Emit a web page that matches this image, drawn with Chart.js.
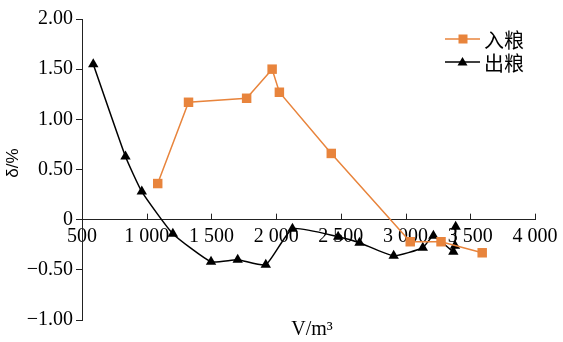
<!DOCTYPE html>
<html>
<head>
<meta charset="utf-8">
<script src="https://cdn.jsdelivr.net/npm/chart.js@4"></script>
<style>
html,body{margin:0;padding:0;background:#fff;}
#wrap{width:563px;height:342px;position:relative;}
</style>
</head>
<body>
<div id="wrap"><canvas id="c" width="563" height="342"></canvas></div>
<script>
// 入粮 series
const inX = [1085, 1323, 1772, 1969, 2025, 2426, 3036, 3274, 3592];
const inY = [0.36, 1.17, 1.21, 1.50, 1.27, 0.66, -0.22, -0.22, -0.33];
// 出粮 series
const outX = [587, 836, 962, 1202, 1497, 1703, 1920, 2126, 2479, 2644, 2908, 3133, 3215, 3369, 3382, 3387];
const outY = [1.55, 0.63, 0.28, -0.14, -0.42, -0.40, -0.45, -0.09, -0.17, -0.23, -0.36, -0.28, -0.16, -0.32, -0.26, -0.07];
const seriesNames = ['入粮', '出粮'];
const xTitle = 'V/m³';
const yTitle = 'δ/%';

const ORANGE = '#E8843C';
const BLACK = '#000000';
const SERIF = '"Liberation Serif", "Times New Roman", serif';

function pts(xs, ys){ return xs.map((x,i)=>({x:x, y:ys[i]})); }

const decor = {
  id: 'decor',
  afterDraw(chart){
    const ctx = chart.ctx;
    const xs = chart.scales.x, ys = chart.scales.y;
    const y0 = ys.getPixelForValue(0);
    ctx.save();
    // upward tick marks on x axis
    ctx.strokeStyle = '#222';
    ctx.lineWidth = 1;
    xs.ticks.forEach(t=>{
      const px = Math.round(xs.getPixelForValue(t.value)) + 0.5;
      ctx.beginPath(); ctx.moveTo(px, y0); ctx.lineTo(px, y0 - 6); ctx.stroke();
    });
    // axis titles
    ctx.fillStyle = '#000';
    ctx.font = '20px ' + SERIF;
    ctx.textAlign = 'center';
    ctx.textBaseline = 'middle';
    ctx.fillText(xTitle, 312, 330);
    ctx.save();
    ctx.translate(13, 163);
    ctx.rotate(-Math.PI/2);
    ctx.font = '17px "Liberation Sans", Arial, sans-serif';
    ctx.fillText(yTitle, 0, 0);
    ctx.restore();
    // legend
    const rows = [39, 62];
    chart.data.datasets.forEach((ds, i)=>{
      const ry = rows[i];
      ctx.strokeStyle = ds.borderColor;
      ctx.lineWidth = ds.borderWidth;
      ctx.beginPath(); ctx.moveTo(445, ry); ctx.lineTo(480, ry); ctx.stroke();
      ctx.fillStyle = ds.pointBackgroundColor;
      if (ds.pointStyle === 'rect') {
        ctx.fillRect(458.5, ry - 4.5, 9, 9);
      } else {
        ctx.beginPath();
        ctx.moveTo(462.5, ry - 5);
        ctx.lineTo(467.5, ry + 3.5);
        ctx.lineTo(457.5, ry + 3.5);
        ctx.closePath(); ctx.fill();
      }
      ctx.fillStyle = '#000';
      ctx.font = '20px "Noto Sans CJK SC", sans-serif';
      ctx.textAlign = 'left';
      ctx.textBaseline = 'middle';
      ctx.fillText(ds.label, 484, ry + 1);
    });
    ctx.restore();
  }
};

new Chart(document.getElementById('c'), {
  type: 'scatter',
  data: {
    datasets: [
      {
        label: seriesNames[0],
        data: pts(inX, inY),
        showLine: true,
        borderColor: ORANGE,
        borderWidth: 1.5,
        pointStyle: 'rect',
        pointRadius: 6.7,
        pointHoverRadius: 6.7,
        pointBackgroundColor: ORANGE,
        pointBorderWidth: 0,
        tension: 0
      },
      {
        label: seriesNames[1],
        data: pts(outX, outY),
        showLine: true,
        borderColor: BLACK,
        borderWidth: 1.5,
        pointStyle: 'triangle',
        pointRadius: 6,
        pointHoverRadius: 6,
        pointBackgroundColor: BLACK,
        pointBorderWidth: 0,
        tension: 0.15
      }
    ]
  },
  options: {
    responsive: false,
    animation: false,
    events: [],
    layout: { padding: { left: 0, top: 19, right: 28, bottom: 22 } },
    plugins: { legend: { display: false }, tooltip: { enabled: false } },
    scales: {
      x: {
        type: 'linear',
        position: { y: 0 },
        min: 500, max: 4000,
        border: { display: true, color: '#222', width: 1 },
        grid: { display: true, drawOnChartArea: false, drawTicks: false },
        ticks: {
          stepSize: 500,
          padding: 5,
          color: '#000',
          font: { family: SERIF, size: 20 },
          maxRotation: 0,
          autoSkip: false,
          callback: v => v >= 1000 ? Math.floor(v/1000) + ' ' + String(v % 1000).padStart(3, '0') : String(v)
        }
      },
      y: {
        type: 'linear',
        position: 'left',
        min: -1, max: 2,
        afterFit: s => { s.width = 82; },
        border: { display: true, color: '#222', width: 1 },
        grid: { display: true, drawOnChartArea: false, drawTicks: true, tickLength: 6, color: '#222' },
        ticks: {
          stepSize: 0.5,
          padding: 3,
          color: '#000',
          font: { family: SERIF, size: 20 },
          callback: v => v === 0 ? '0' : (v < 0 ? '\u2212' : '') + Math.abs(v).toFixed(2)
        }
      }
    }
  },
  plugins: [decor]
});
</script>
</body>
</html>
